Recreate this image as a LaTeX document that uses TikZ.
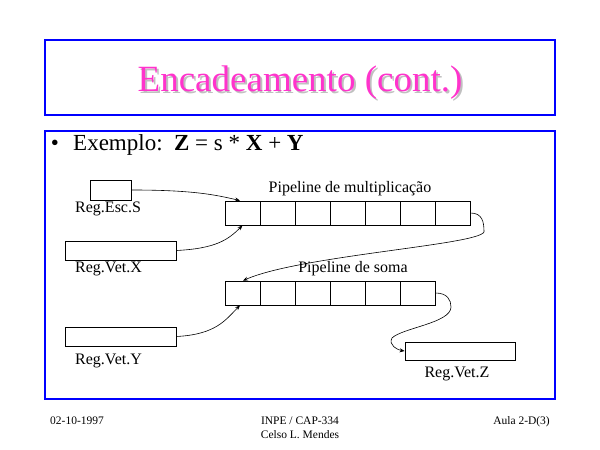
\documentclass[tikz,border=0pt]{standalone}
\usepackage{fontspec}
\setmainfont{Liberation Serif}
\usetikzlibrary{arrows.meta}
\definecolor{titlepink}{RGB}{255,51,204}
\definecolor{shadowgray}{RGB}{192,192,192}
\newcommand{\lblfont}{\fontsize{16}{18}\selectfont}
\newcommand{\footfont}{\fontsize{11.5}{13}\selectfont}
\newcommand{\shadowed}[1]{\rlap{\hspace{2pt}\raisebox{-2pt}{\color{shadowgray}#1}}{\color{titlepink}#1}}
\begin{document}
\begin{tikzpicture}[x=1pt,y=1pt]
                        \tikzstyle{frame}=[draw=blue, line width=1.2pt, inner sep=0pt, minimum width=510pt]
                        \tikzstyle{cell}=[draw, line width=0.8pt, inner sep=0pt, minimum width=35pt, minimum height=24pt]
                        \tikzstyle{reg}=[draw, line width=0.8pt, inner sep=0pt, minimum height=19pt]
                        \tikzstyle{lbl}=[inner sep=0pt, font=\lblfont]
                        \tikzstyle{foot}=[inner sep=0pt, font=\footfont]
                        \tikzstyle{conn}=[line width=0.6pt, -{Stealth[length=5pt,width=4pt]}]
                        \useasboundingbox (0,0) rectangle (600,450);
                        % frames
                        \node[frame, minimum height=75pt] (titlebox) at (300,372.5) {};
                        \node[frame, minimum height=268pt] (bodybox) at (300,185) {};
                        % title with its shadow
                        \node[anchor=base, inner sep=0pt, font=\fontsize{37}{40}\selectfont] (title) at (300,358)
                            {\shadowed{Encadeamento (cont.)}};
                        % example line
                        \node[anchor=base, inner sep=0pt, font=\fontsize{23}{26}\selectfont] (bullet) at (55,299) {\textbullet};
                        \node[anchor=base west, inner sep=0pt, font=\fontsize{23}{26}\selectfont] (example) at (73,299)
                            {Exemplo:\ \ \textbf{Z} = s * \textbf{X} + \textbf{Y}};
                        % pipelines
                        \foreach \i in {1,...,7}
                            \node[cell] (m\i) at ({225+35*\i-17.5},237) {};
                        \foreach \i in {1,...,6}
                            \node[cell] (s\i) at ({225+35*\i-17.5},157) {};
                        \node[lbl, anchor=base] (multlabel) at (350,257) {Pipeline de multiplicação};
                        \node[lbl, anchor=base] (somalabel) at (353,177) {Pipeline de soma};
                        % registers
                        \node[reg, minimum width=41pt, minimum height=20pt] (regs) at (110.5,260) {};
                        \node[reg, minimum width=111pt] (regx) at (120.5,199.5) {};
                        \node[reg, minimum width=111pt] (regy) at (120.5,113.5) {};
                        \node[reg, minimum width=110pt, minimum height=18pt] (regz) at (460,99) {};
                        \node[lbl, anchor=base west] (regslabel) at (75,237) {Reg.Esc.S};
                        \node[lbl, anchor=base west] (regxlabel) at (75,177) {Reg.Vet.X};
                        \node[lbl, anchor=base west] (regylabel) at (75,85) {Reg.Vet.Y};
                        \node[lbl, anchor=base] (regzlabel) at (457,72) {Reg.Vet.Z};
                        % connectors
                        \coordinate (mbend) at (484,218);
                        \coordinate (sbend) at (451,143);
                        \coordinate (zbend) at (392,112);
                        \draw[conn] (regs.east) .. controls +(60,0) and +(-25,6) .. ([xshift=-2.5pt]m1.north);
                        \draw[conn] (regx.east) .. controls +(40,2) and +(-14,-14) .. (m1.south);
                        \draw[conn] (m7.east) .. controls +(12,0) and +(0,10) .. (mbend)
                            .. controls +(-6,-13) and +(57,25) .. ([xshift=0.5pt]s1.north);
                        \draw[conn] (regy.east) .. controls +(40,2) and +(-14,-14) .. ([xshift=-2.5pt]s1.south);
                        \draw[conn] (s6.east) .. controls +(12,0) and +(0,7) .. (sbend)
                            .. controls +(0,-16) and +(10,10) .. (zbend)
                            .. controls +(-4,-7) and +(-7,1) .. (regz.west);
                        % footer
                        \node[foot, anchor=base west] (date) at (50,25) {02-10-1997};
                        \node[foot, anchor=base] (inst) at (300,25) {INPE / CAP-334};
                        \node[foot, anchor=base] (author) at (300,12) {Celso L. Mendes};
                        \node[foot, anchor=base east] (lecture) at (550,25) {Aula 2-D(3)};
                    \end{tikzpicture}
\end{document}
